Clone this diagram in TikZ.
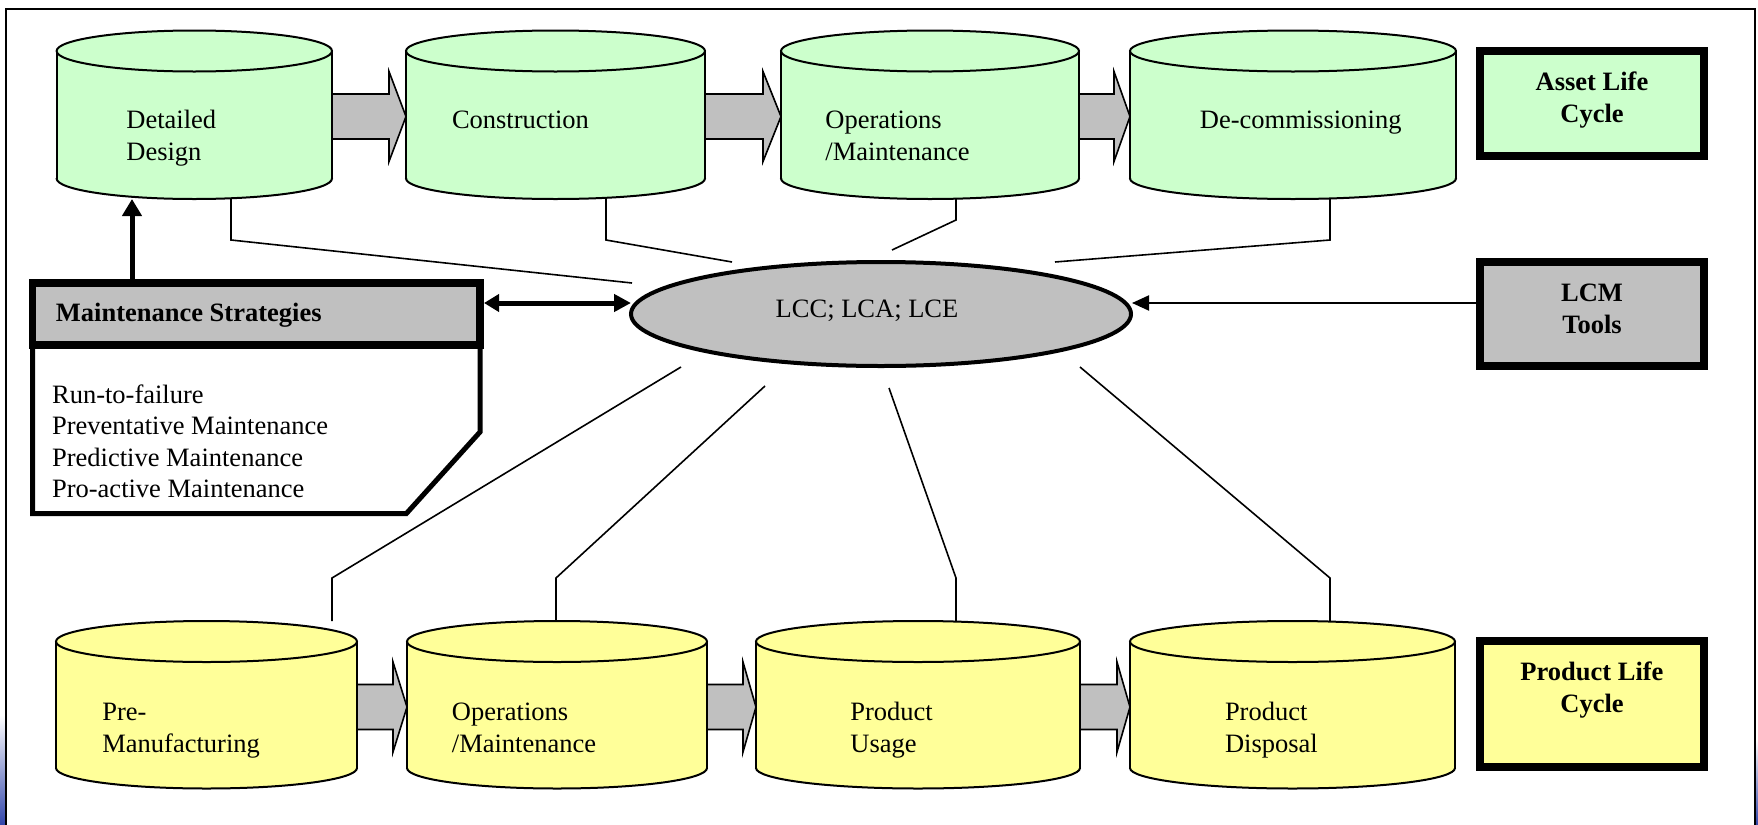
\documentclass[tikz,border=0pt]{standalone}
\usepackage{fontspec}
\setmainfont{Liberation Serif}
\usetikzlibrary{arrows.meta,shapes.geometric}
\definecolor{lgreen}{HTML}{CCFFCC}
\definecolor{lyellow}{HTML}{FFFF99}
\definecolor{mgray}{HTML}{C0C0C0}
\definecolor{stripblue}{RGB}{50,70,170}

% cylinder: #1 left x, #2 right x, #3 top centre y, #4 bottom centre y, #5 fill
\newcommand{\drawcyl}[5]{%
  \pgfmathsetmacro\cylcx{(#1+#2)/2}%
  \pgfmathsetmacro\cylrx{(#2-#1)/2}%
  \fill[#5] (#1,#3) rectangle (#2,#4);
  \fill[#5] (\cylcx,#4) ellipse[x radius=\cylrx, y radius=20.5];
  \begin{scope}
    \clip (#1-3,#4) rectangle (#2+3,#4+25);
    \draw[cylline] (\cylcx,#4) ellipse[x radius=\cylrx, y radius=20.5];
  \end{scope}
  \draw[cylline] (#1,#3) -- (#1,#4) (#2,#3) -- (#2,#4);
  \draw[cylline, fill=#5] (\cylcx,#3) ellipse[x radius=\cylrx, y radius=20.5];
}
% block arrow: #1 start x, #2 head base x, #3 tip x, #4 centre y
\newcommand{\blockarrow}[4]{%
  \filldraw[blk] (#1,#4-22.5) -- (#2,#4-22.5) -- (#2,#4-45) -- (#3,#4)
    -- (#2,#4+45) -- (#2,#4+22.5) -- (#1,#4+22.5);
}

\begin{document}
\begin{tikzpicture}[x=0.5pt,y=-0.5pt,
  cylline/.style={line width=1pt},
  conn/.style={line width=0.8pt},
  blk/.style={fill=mgray, draw=black, line width=0.8pt},
  txt/.style={inner sep=0pt, font=\fontsize{13.25}{15.8}\selectfont, align=left, anchor=north west},
  btxt/.style={inner sep=0pt, font=\fontsize{13.25}{15.8}\selectfont\bfseries, align=center, anchor=north},
  sidebox/.style={draw, line width=4pt, minimum width=112pt, inner sep=0pt},
  thickarr/.style={line width=2.5pt},
]
\useasboundingbox (0,0) rectangle (1758,825);

% page frame and slide strips
\shade[top color=white, bottom color=stripblue] (0,715) rectangle (5,825);
\shade[top color=white, bottom color=stripblue] (1756,740) rectangle (1758,825);
\draw[line width=1.1pt] (6.2,825) -- (6.2,8.6) -- (1754.7,8.6) -- (1754.7,825);

% block arrows (drawn first, cylinders cover their roots)
\blockarrow{332}{389}{406}{116.5}
\blockarrow{705}{763}{781}{116.5}
\blockarrow{1079}{1114}{1130}{116.5}
\blockarrow{357}{393}{407}{707}
\blockarrow{707}{743}{756}{707}
\blockarrow{1080}{1117}{1130}{707}

% asset life cycle cylinders
\drawcyl{56.6}{332}{51}{178.5}{lgreen}
\drawcyl{406}{705}{51}{178.5}{lgreen}
\drawcyl{781}{1079}{51}{178.5}{lgreen}
\drawcyl{1130}{1456}{51}{178.5}{lgreen}
% product life cycle cylinders
\drawcyl{56}{357}{641.5}{768}{lyellow}
\drawcyl{407}{707}{641.5}{768}{lyellow}
\drawcyl{756}{1080}{641.5}{768}{lyellow}
\drawcyl{1130}{1455}{641.5}{768}{lyellow}

% cylinder texts
\node[txt] (c1) at (126,106.4) {\strut Detailed\\\strut Design};
\node[txt] (c2) at (451.6,106.4) {\strut Construction};
\node[txt] (c3) at (825,106.4) {\strut Operations\\\strut /Maintenance};
\node[txt] (c4) at (1199.5,106.4) {\strut De-commissioning};
\node[txt] (p1) at (102,697.9) {\strut Pre-\\\strut Manufacturing};
\node[txt] (p2) at (451.5,697.9) {\strut Operations\\\strut /Maintenance};
\node[txt] (p3) at (850,697.9) {\strut Product\\\strut Usage};
\node[txt] (p4) at (1224.6,697.9) {\strut Product\\\strut Disposal};

% central ellipse
\node[ellipse, draw, line width=2pt, fill=mgray, minimum width=250pt, minimum height=52pt, inner sep=0pt] (lcc) at (881,314) {};
\node[txt, anchor=base] (lcct) at (867,317.5) {LCC; LCA; LCE};

% side boxes
\node[sidebox, fill=lgreen, minimum height=52.5pt] (asset) at (1592,103.5) {};
\node[btxt] (assett) at (1592,68) {\strut Asset Life\\\strut Cycle};
\node[sidebox, fill=mgray, minimum height=52pt] (lcm) at (1592,314) {};
\node[btxt] (lcmt) at (1592,279) {\strut LCM\\\strut Tools};
\node[sidebox, fill=lyellow, minimum height=63pt] (plc) at (1592,704) {};
\node[btxt] (plct) at (1592,658) {\strut Product Life\\\strut Cycle};

% maintenance strategies box
\draw[line width=2.5pt] (480,345) -- (480,432) -- (406.4,513.5) -- (32.5,513.5) -- (32.5,345);
\node[draw, line width=3.75pt, fill=mgray, minimum width=223.75pt, minimum height=31pt, inner sep=0pt] (ms) at (256.25,314) {};
\node[txt, anchor=base west, font=\fontsize{13.25}{15.8}\selectfont\bfseries] (mst) at (55.5,321) {Maintenance Strategies};
\node[txt] (msl) at (51.7,380.6) {\strut Run-to-failure\\\strut Preventative Maintenance\\\strut Predictive Maintenance\\\strut Pro-active Maintenance};

% connector coordinates
\coordinate (c1b) at (231,198.5);  \coordinate (k1) at (231,240);  \coordinate (e1) at (632,283);
\coordinate (c2b) at (606,198.5);  \coordinate (k2) at (606,240);  \coordinate (e2) at (732,262);
\coordinate (c3b) at (956,198.5);  \coordinate (k3) at (956,220);  \coordinate (e3) at (892,250);
\coordinate (c4b) at (1330,198.5); \coordinate (k4) at (1330,240); \coordinate (e4) at (1055,262);
\coordinate (e5) at (681,367);  \coordinate (k5) at (332,578);  \coordinate (p1t) at (332,621);
\coordinate (e6) at (765,386);  \coordinate (k6) at (556,578);  \coordinate (p2t) at (556,621);
\coordinate (e7) at (889,388);  \coordinate (k7) at (956,578);  \coordinate (p3t) at (956,621);
\coordinate (e8) at (1080,367); \coordinate (k8) at (1330,578); \coordinate (p4t) at (1330,621);

\draw[conn] (c1b) -- (k1) -- (e1);
\draw[conn] (c2b) -- (k2) -- (e2);
\draw[conn] (c3b) -- (k3) -- (e3);
\draw[conn] (c4b) -- (k4) -- (e4);
\draw[conn] (e5) -- (k5) -- (p1t);
\draw[conn] (e6) -- (k6) -- (p2t);
\draw[conn] (e7) -- (k7) -- (p3t);
\draw[conn] (e8) -- (k8) -- (p4t);

% arrows
\coordinate (msup) at (132,283);  \coordinate (c1up) at (132,199);
\draw[thickarr, -{Triangle[length=8.5pt,width=9.5pt]}] (msup) -- (c1up);
\coordinate (msr) at (484,303);  \coordinate (lccl) at (631,303);
\draw[thickarr, {Triangle[length=7.5pt,width=8.5pt]}-{Triangle[length=8.5pt,width=8.5pt]}] (msr) -- (lccl);
\coordinate (lcmw) at (1476,303); \coordinate (lccr) at (1132,303);
\draw[line width=1pt, -{Triangle[length=8.5pt,width=7.5pt]}] (lcmw) -- (lccr);
\end{tikzpicture}
\end{document}
